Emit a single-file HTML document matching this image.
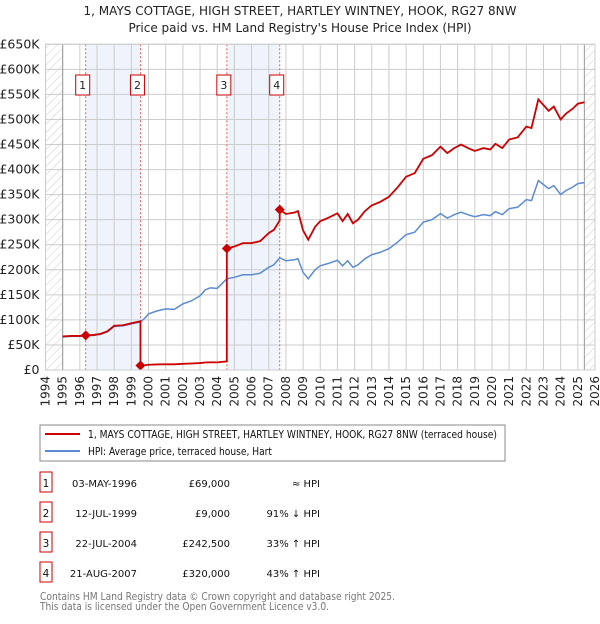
<!DOCTYPE html>
<html><head><meta charset="utf-8"><style>
body{margin:0;background:#fff;font-family:"DejaVu Sans","Liberation Sans",sans-serif;}
svg text{font-family:"DejaVu Sans","Liberation Sans",sans-serif;}
</style></head><body>
<svg id="c" width="600" height="620" xmlns="http://www.w3.org/2000/svg">
<defs><pattern id="hatch" width="6" height="6" patternUnits="userSpaceOnUse" patternTransform="rotate(45)"><line x1="0" y1="0" x2="0" y2="6" stroke="#ccc" stroke-width="1"/></pattern></defs>
<text x="300" y="15" text-anchor="middle" font-size="12" fill="#222">1, MAYS COTTAGE, HIGH STREET, HARTLEY WINTNEY, HOOK, RG27 8NW</text>
<text x="300" y="32" text-anchor="middle" font-size="12" fill="#222">Price paid vs. HM Land Registry's House Price Index (HPI)</text>
<g id="plot"></g>
<rect x="40" y="425" width="465" height="36" fill="#fff" stroke="#888"/>
<line x1="45" y1="434" x2="80" y2="434" stroke="#cc0000" stroke-width="2"/>
<text x="88" y="438" font-size="10.5" fill="#111" textLength="409" lengthAdjust="spacingAndGlyphs">1, MAYS COTTAGE, HIGH STREET, HARTLEY WINTNEY, HOOK, RG27 8NW (terraced house)</text>
<line x1="45" y1="451" x2="80" y2="451" stroke="#5b8bd0" stroke-width="2"/>
<text x="88" y="455" font-size="10.5" fill="#111" textLength="184" lengthAdjust="spacingAndGlyphs">HPI: Average price, terraced house, Hart</text>
<g id="table"></g>
<text x="40" y="600" font-size="11" fill="#777" textLength="355" lengthAdjust="spacingAndGlyphs">Contains HM Land Registry data © Crown copyright and database right 2025.</text>
<text x="40" y="610" font-size="11" fill="#777" textLength="289" lengthAdjust="spacingAndGlyphs">This data is licensed under the Open Government Licence v3.0.</text>
</svg>
<script>
const hpiYears=[1995,1995.5,1996,1996.34,1996.8,1997.2,1997.6,1998,1998.5,1999,1999.53,1999.8,2000,2000.5,2001,2001.5,2002,2002.5,2003,2003.3,2003.6,2004,2004.56,2005,2005.5,2006,2006.5,2007,2007.3,2007.64,2008,2008.5,2008.7,2009,2009.3,2009.7,2010,2010.5,2011,2011.3,2011.6,2011.9,2012.2,2012.6,2013,2013.5,2014,2014.5,2015,2015.5,2016,2016.5,2017,2017.4,2017.8,2018.2,2018.6,2019,2019.5,2019.9,2020.2,2020.6,2021,2021.5,2022,2022.3,2022.7,2023,2023.3,2023.6,2024,2024.3,2024.7,2025,2025.38];
const hpiValues=[66,67,67,68,69,71,76,87,88,92,96,104,112,118,122,121,132,138,148,160,164,163,182,185,190,190,193,205,210,224,218,220,222,195,182,200,208,213,219,208,218,205,210,222,230,235,242,255,270,275,295,300,312,303,310,315,310,306,310,308,316,310,322,325,340,338,378,370,362,368,350,358,365,372,374];
const saleYears=[1996.34,1999.53,2004.56,2007.64];
const salePrices=[69000,9000,242500,320000];
const yTicks=[0,50,100,150,200,250,300,350,400,450,500,550,600,650];
const yTickLabels=["£0","£50K","£100K","£150K","£200K","£250K","£300K","£350K","£400K","£450K","£500K","£550K","£600K","£650K"];
const xTicks=[1994,1995,1996,1997,1998,1999,2000,2001,2002,2003,2004,2005,2006,2007,2008,2009,2010,2011,2012,2013,2014,2015,2016,2017,2018,2019,2020,2021,2022,2023,2024,2025,2026];
const saleDates=["03-MAY-1996","12-JUL-1999","22-JUL-2004","21-AUG-2007"];
const salePriceLabels=["£69,000","£9,000","£242,500","£320,000"];
const saleHpiLabels=["≈ HPI","91% ↓ HPI","33% ↑ HPI","43% ↑ HPI"];

const X0=45.5,X1=595,Y0=370,Y1=44.3;
const xs=y=>X0+(y-1994)/32*(X1-X0);
const ys=v=>Y0-v/650*(Y0-Y1);
const NS="http://www.w3.org/2000/svg";
const plot=document.getElementById('plot');
function mk(tag,attrs,parent){const e=document.createElementNS(NS,tag);for(const k in attrs)e.setAttribute(k,attrs[k]);(parent||plot).appendChild(e);return e;}
function hpiAt(t){for(let i=1;i<hpiYears.length;i++){if(t<=hpiYears[i]){const f=(t-hpiYears[i-1])/(hpiYears[i]-hpiYears[i-1]);return hpiValues[i-1]+f*(hpiValues[i]-hpiValues[i-1]);}}return hpiValues[hpiValues.length-1];}

let e;
e=mk('rect',{x:xs(1994),y:Y1,width:xs(1995)-xs(1994),height:Y0-Y1,fill:'url(#hatch)'});


e=mk('rect',{x:xs(2025.38),y:Y1,width:X1-xs(2025.38),height:Y0-Y1,fill:'url(#hatch)'});


[[0,1],[2,3]].forEach((p,i)=>{
  e=mk('rect',{x:xs(saleYears[p[0]]),y:Y1,width:xs(saleYears[p[1]])-xs(saleYears[p[0]]),height:Y0-Y1,fill:'#eef3fc'});
  
  
});
yTicks.forEach((v,i)=>{
  e=mk('line',{x1:X0,x2:X1,y1:ys(v),y2:ys(v),stroke:'#ccc','stroke-width':1});
  
  
  e=mk('text',{x:X0-6,y:ys(v)+4,'text-anchor':'end','font-size':12.5,fill:'#222'});
  e.textContent=yTickLabels[i];
  
  
});
xTicks.forEach(yr=>{
  e=mk('line',{x1:xs(yr),x2:xs(yr),y1:Y1,y2:Y0,stroke:'#ccc','stroke-width':1});
  
  
  const tx=xs(yr)+4;
  e=mk('text',{x:tx,y:376,'text-anchor':'end','font-size':12,fill:'#222',transform:`rotate(-90 ${tx} 376)`});
  e.textContent=yr;
  
  
});
e=mk('line',{x1:xs(1995),x2:xs(1995),y1:Y1,y2:Y0,stroke:'#999'});


e=mk('line',{x1:xs(2025.38),x2:xs(2025.38),y1:Y1,y2:Y0,stroke:'#999'});


saleYears.forEach((sy,i)=>{
  e=mk('line',{x1:xs(sy),x2:xs(sy),y1:Y1,y2:Y0,stroke:'#e06060','stroke-dasharray':'2,2','stroke-width':1});
  
  
  e=mk('rect',{x:xs(sy)-10,y:75,width:14,height:20,fill:'#fff',stroke:'#cc0000'});
  
  
  e=mk('text',{x:xs(sy)-3,y:89,'text-anchor':'middle','font-size':11,fill:'#222'});
  e.textContent=i+1;
  
  
});
e=mk('polyline',{points:hpiYears.map((t,i)=>xs(t)+','+ys(hpiValues[i])).join(' '),fill:'none',stroke:'#5b8bd0','stroke-width':1.5});


const pts=[];
hpiYears.forEach(t=>{
  let k=0;for(let j=0;j<saleYears.length;j++)if(t>=saleYears[j])k=j;
  pts.push([t,salePrices[k]/1000*hpiAt(t)/hpiAt(saleYears[k])]);
});
saleYears.forEach((sy,j)=>{
  if(j>0)pts.push([sy-0.001,salePrices[j-1]/1000*hpiAt(sy)/hpiAt(saleYears[j-1])]);
  pts.push([sy,salePrices[j]/1000]);
});
pts.sort((a,b)=>a[0]-b[0]);
e=mk('polyline',{points:pts.map(p=>xs(p[0])+','+ys(p[1])).join(' '),fill:'none',stroke:'#cc0000','stroke-width':1.8});


saleYears.forEach((sy,i)=>{
  const cx=xs(sy),cy=ys(salePrices[i]/1000);
  e=mk('path',{d:`M${cx-5},${cy} L${cx},${cy-5} L${cx+5},${cy} L${cx},${cy+5}Z`,fill:'#cc0000'});
  
  
});
e=mk('rect',{x:X0,y:Y1,width:X1-X0,height:Y0-Y1,fill:'none',stroke:'#ccc'});


const tb=document.getElementById('table');
saleDates.forEach((d,i)=>{
  const cy=483+i*30;
  e=mk('rect',{x:40,y:cy-11,width:12,height:20,fill:'#fff',stroke:'#cc0000'},tb);
  
  
  e=mk('text',{x:46,y:cy+4,'text-anchor':'middle','font-size':10.5,fill:'#111'},tb);
  e.textContent=i+1;
  
  
  e=mk('text',{x:137,y:cy+4,'text-anchor':'end','font-size':10,fill:'#111'},tb);
  e.textContent=d;
  
  
  e=mk('text',{x:230,y:cy+4,'text-anchor':'end','font-size':10,fill:'#111'},tb);
  e.textContent=salePriceLabels[i];
  
  
  e=mk('text',{x:320,y:cy+4,'text-anchor':'end','font-size':10,fill:'#111'},tb);
  e.textContent=saleHpiLabels[i];
  
  
});
</script>
</body></html>
